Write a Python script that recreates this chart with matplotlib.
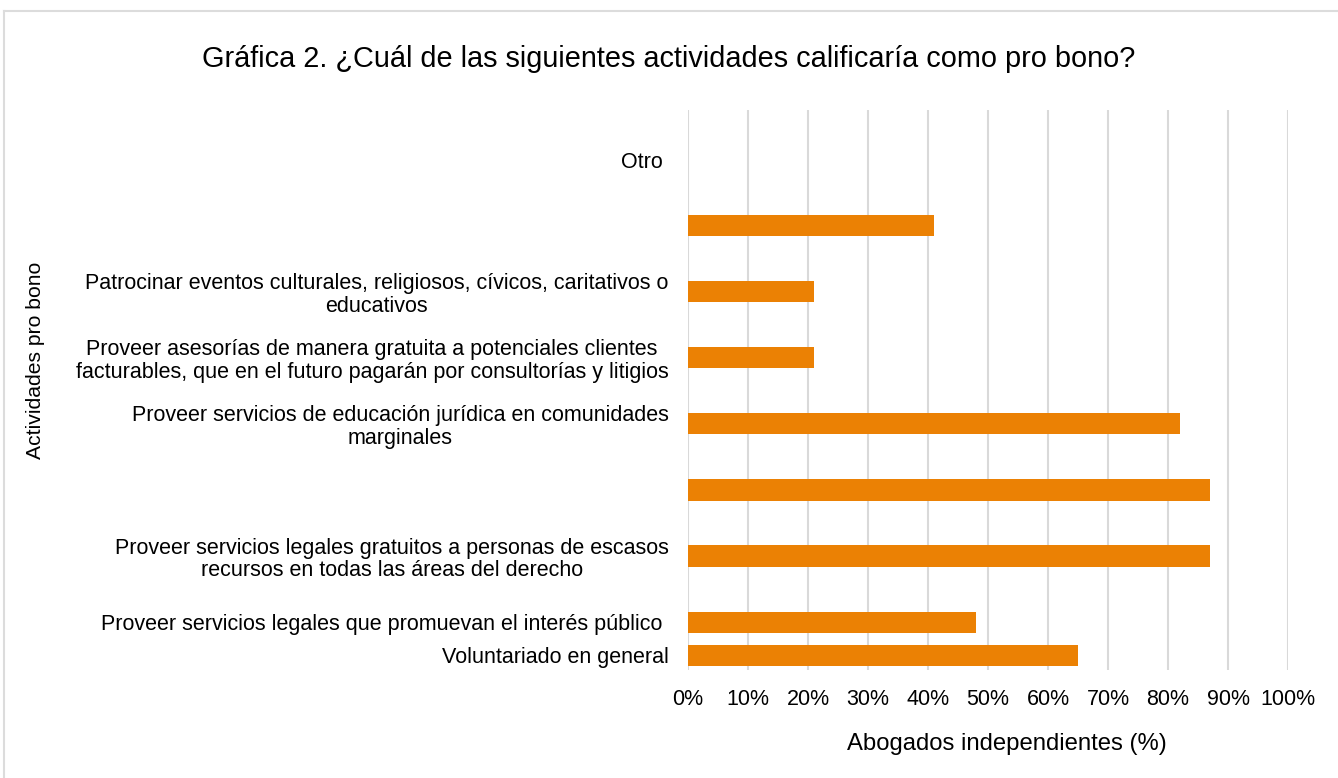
import matplotlib
matplotlib.use("Agg")
import matplotlib.pyplot as plt
from matplotlib.lines import Line2D
import numpy as np

plt.rcParams['font.family'] = ['Liberation Sans', 'DejaVu Sans']

title = "Gráfica 2. ¿Cuál de las siguientes actividades calificaría como pro bono?"
xlabel = "Abogados independientes (%)"
ylabel = "Actividades pro bono"

# categories from bottom to top (blank slots as in the original chart)
categories = [
    "Voluntariado en general",
    "Proveer servicios legales que promuevan el interés público ",
    "",
    "Proveer servicios legales gratuitos a personas de escasos\nrecursos en todas las áreas del derecho",
    "",
    "",
    "",
    "Proveer servicios de educación jurídica en comunidades\nmarginales",
    "",
    "Proveer asesorías de manera gratuita a potenciales clientes\nfacturables, que en el futuro pagarán por consultorías y litigios",
    "",
    "Patrocinar eventos culturales, religiosos, cívicos, caritativos o\neducativos",
    "",
    "",
    "",
    "Otro ",
]
values = [65, 48, 0, 87, 0, 87, 0, 82, 0, 21, 0, 21, 0, 41, 0, 0]
xticks = [0, 10, 20, 30, 40, 50, 60, 70, 80, 90, 100]
xticklabels = ["0%", "10%", "20%", "30%", "40%", "50%", "60%", "70%", "80%", "90%", "100%"]

fig = plt.figure(figsize=(13.38, 7.78), dpi=100)
ax = fig.add_axes([688/1338, 1-670/778, 600/1338, (670-110)/778])

y = np.arange(len(categories))
ax.barh(y, values, height=0.64, color="#eb8104", zorder=3)

ax.set_xlim(0, 100)
ax.set_ylim(-0.45, 16.5)
ax.set_xticks(xticks)
ax.set_xticklabels(xticklabels, fontsize=15.5)
ax.set_yticks(y)
ax.set_yticklabels(categories, fontsize=15.5, multialignment='center', linespacing=1.1)
ax.tick_params(axis='both', length=0)
ax.tick_params(axis='y', pad=14)
ax.tick_params(axis='x', pad=14)
ax.grid(axis='x', color='#d9d9d9', linewidth=1.5, zorder=0)
for s in ax.spines.values():
    s.set_visible(False)

ax.set_xlabel(xlabel, fontsize=17.2)
ax.xaxis.set_label_coords((1007-688)/600, -(744-670)/560)
ax.xaxis.label.set_va('center')
fig.text(36/1338, 1-360/778, ylabel, rotation=90, fontsize=15.2, ha='center', va='center')
fig.text(669/1338, 1-59/778, title, fontsize=20.8, ha='center', va='center')

# chart border (top and left visible)
fig.add_artist(Line2D([4/1338, 1], [1-10.5/778, 1-10.5/778], transform=fig.transFigure, color='#dcdcdc', lw=1.5))
fig.add_artist(Line2D([4/1338, 4/1338], [0, 1-10.5/778], transform=fig.transFigure, color='#dcdcdc', lw=1.5))

fig.savefig("out.png", dpi=100)
